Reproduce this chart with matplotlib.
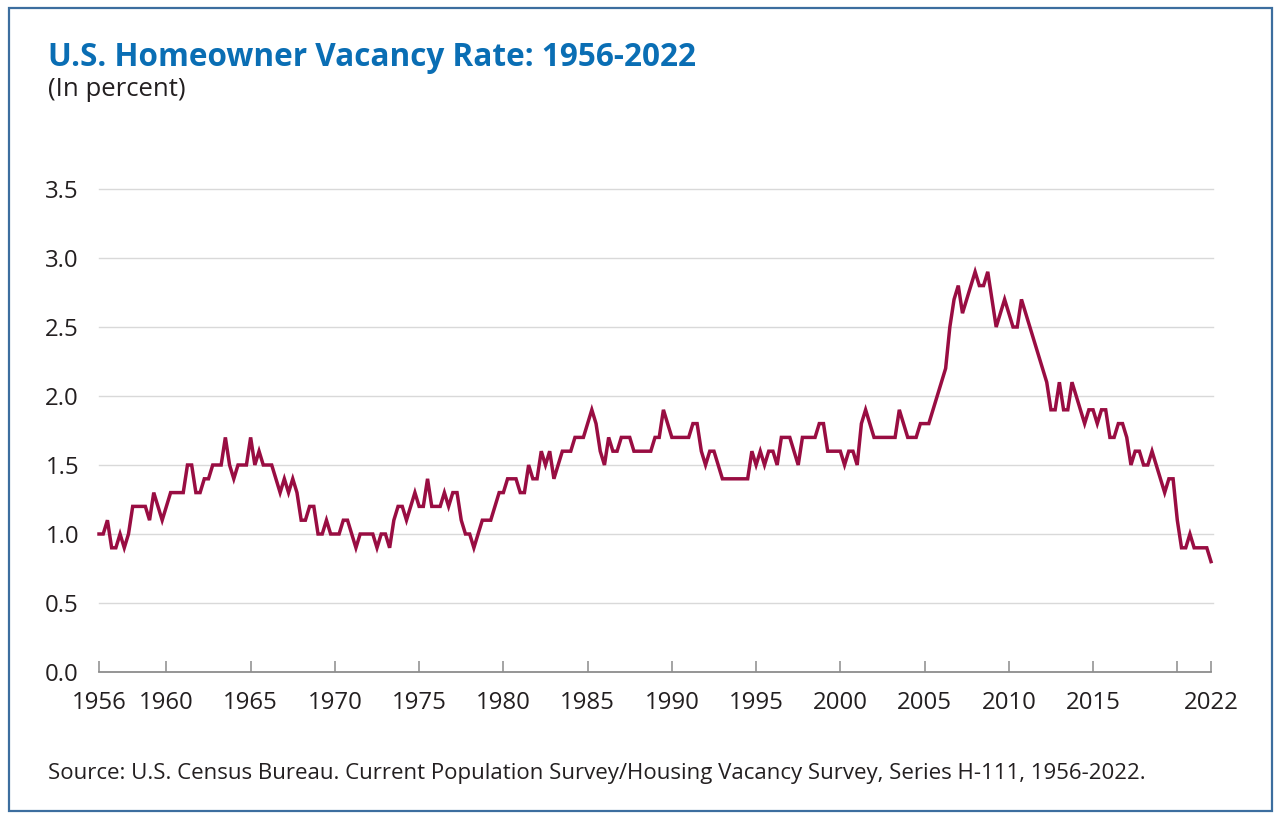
import matplotlib
matplotlib.use("Agg")
import matplotlib.pyplot as plt
from matplotlib.patches import Rectangle

plt.rcParams['font.family'] = ['Open Sans', 'DejaVu Sans']

start_year = 1956
# Quarterly homeowner vacancy rate (percent), 1956 Q1 - 2022 Q1
vacancy_rate = [
    1.0, 1.0, 1.1, 0.9,   # 1956
    0.9, 1.0, 0.9, 1.0,   # 1957
    1.2, 1.2, 1.2, 1.2,   # 1958
    1.1, 1.3, 1.2, 1.1,   # 1959
    1.2, 1.3, 1.3, 1.3,   # 1960
    1.3, 1.5, 1.5, 1.3,   # 1961
    1.3, 1.4, 1.4, 1.5,   # 1962
    1.5, 1.5, 1.7, 1.5,   # 1963
    1.4, 1.5, 1.5, 1.5,   # 1964
    1.7, 1.5, 1.6, 1.5,   # 1965
    1.5, 1.5, 1.4, 1.3,   # 1966
    1.4, 1.3, 1.4, 1.3,   # 1967
    1.1, 1.1, 1.2, 1.2,   # 1968
    1.0, 1.0, 1.1, 1.0,   # 1969
    1.0, 1.0, 1.1, 1.1,   # 1970
    1.0, 0.9, 1.0, 1.0,   # 1971
    1.0, 1.0, 0.9, 1.0,   # 1972
    1.0, 0.9, 1.1, 1.2,   # 1973
    1.2, 1.1, 1.2, 1.3,   # 1974
    1.2, 1.2, 1.4, 1.2,   # 1975
    1.2, 1.2, 1.3, 1.2,   # 1976
    1.3, 1.3, 1.1, 1.0,   # 1977
    1.0, 0.9, 1.0, 1.1,   # 1978
    1.1, 1.1, 1.2, 1.3,   # 1979
    1.3, 1.4, 1.4, 1.4,   # 1980
    1.3, 1.3, 1.5, 1.4,   # 1981
    1.4, 1.6, 1.5, 1.6,   # 1982
    1.4, 1.5, 1.6, 1.6,   # 1983
    1.6, 1.7, 1.7, 1.7,   # 1984
    1.8, 1.9, 1.8, 1.6,   # 1985
    1.5, 1.7, 1.6, 1.6,   # 1986
    1.7, 1.7, 1.7, 1.6,   # 1987
    1.6, 1.6, 1.6, 1.6,   # 1988
    1.7, 1.7, 1.9, 1.8,   # 1989
    1.7, 1.7, 1.7, 1.7,   # 1990
    1.7, 1.8, 1.8, 1.6,   # 1991
    1.5, 1.6, 1.6, 1.5,   # 1992
    1.4, 1.4, 1.4, 1.4,   # 1993
    1.4, 1.4, 1.4, 1.6,   # 1994
    1.5, 1.6, 1.5, 1.6,   # 1995
    1.6, 1.5, 1.7, 1.7,   # 1996
    1.7, 1.6, 1.5, 1.7,   # 1997
    1.7, 1.7, 1.7, 1.8,   # 1998
    1.8, 1.6, 1.6, 1.6,   # 1999
    1.6, 1.5, 1.6, 1.6,   # 2000
    1.5, 1.8, 1.9, 1.8,   # 2001
    1.7, 1.7, 1.7, 1.7,   # 2002
    1.7, 1.7, 1.9, 1.8,   # 2003
    1.7, 1.7, 1.7, 1.8,   # 2004
    1.8, 1.8, 1.9, 2.0,   # 2005
    2.1, 2.2, 2.5, 2.7,   # 2006
    2.8, 2.6, 2.7, 2.8,   # 2007
    2.9, 2.8, 2.8, 2.9,   # 2008
    2.7, 2.5, 2.6, 2.7,   # 2009
    2.6, 2.5, 2.5, 2.7,   # 2010
    2.6, 2.5, 2.4, 2.3,   # 2011
    2.2, 2.1, 1.9, 1.9,   # 2012
    2.1, 1.9, 1.9, 2.1,   # 2013
    2.0, 1.9, 1.8, 1.9,   # 2014
    1.9, 1.8, 1.9, 1.9,   # 2015
    1.7, 1.7, 1.8, 1.8,   # 2016
    1.7, 1.5, 1.6, 1.6,   # 2017
    1.5, 1.5, 1.6, 1.5,   # 2018
    1.4, 1.3, 1.4, 1.4,   # 2019
    1.1, 0.9, 0.9, 1.0,   # 2020
    0.9, 0.9, 0.9, 0.9,   # 2021
    0.8,                  # 2022
]
years = [start_year + i / 4 for i in range(len(vacancy_rate))]

x_ticks = [1956, 1960, 1965, 1970, 1975, 1980, 1985, 1990, 1995, 2000,
           2005, 2010, 2015, 2020, 2022]
x_tick_labels = ['1956', '1960', '1965', '1970', '1975', '1980', '1985', '1990',
                 '1995', '2000', '2005', '2010', '2015', '', '2022']
y_ticks = [0.0, 0.5, 1.0, 1.5, 2.0, 2.5, 3.0, 3.5]

title = "U.S. Homeowner Vacancy Rate: 1956-2022"
subtitle = "(In percent)"
source = ("Source: U.S. Census Bureau. Current Population Survey/Housing Vacancy Survey, "
          "Series H-111, 1956-2022.")

W, H = 1280, 822
fig = plt.figure(figsize=(W / 100, H / 100), dpi=100)
fig.patch.set_facecolor('white')

ax = fig.add_axes([99 / W, 1 - 672 / H, (1211 - 99) / W, (672 - 189) / H])
ax.plot(years, vacancy_rate, color='#990D42', linewidth=2.5, solid_joinstyle='miter',
        clip_on=False, zorder=3)

ax.set_xlim(1956, 2022)
ax.set_ylim(0, 3.5)
ax.set_yticks(y_ticks)
ax.set_yticklabels([f"{v:.1f}" for v in y_ticks])
ax.set_xticks(x_ticks)
ax.set_xticklabels(x_tick_labels)

for v in y_ticks[1:]:
    ax.plot([1956, 2022.1], [v, v], color='#d9d9d9', linewidth=1.0, zorder=1, clip_on=False)

for s in ['top', 'right', 'left']:
    ax.spines[s].set_visible(False)
ax.spines['bottom'].set_color('#8c8c8c')
ax.spines['bottom'].set_linewidth(1.3)

ax.tick_params(axis='x', direction='in', length=8, width=1.1, color='#8c8c8c',
               labelsize=17.3, labelcolor='#231f20', pad=13.5)
ax.tick_params(axis='y', length=0, labelsize=17.3, labelcolor='#231f20', pad=14.4)

fig.text(48 / W, 1 - 58 / H, title, fontsize=22.7, fontweight='bold', color='#0A6EB4',
         ha='left', va='center')
fig.text(48 / W, 1 - 89 / H, subtitle, fontsize=18.5, color='#231f20',
         ha='left', va='center')
fig.text(48 / W, 1 - 773 / H, source, fontsize=16.05, color='#231f20',
         ha='left', va='center')

fig.patches.append(Rectangle((9 / W, 1 - 811 / H), (1272 - 9) / W, (811 - 8) / H,
                             transform=fig.transFigure, fill=False,
                             edgecolor='#3C6E9F', linewidth=1.6))

fig.savefig('out.png', dpi=100, facecolor='white')
